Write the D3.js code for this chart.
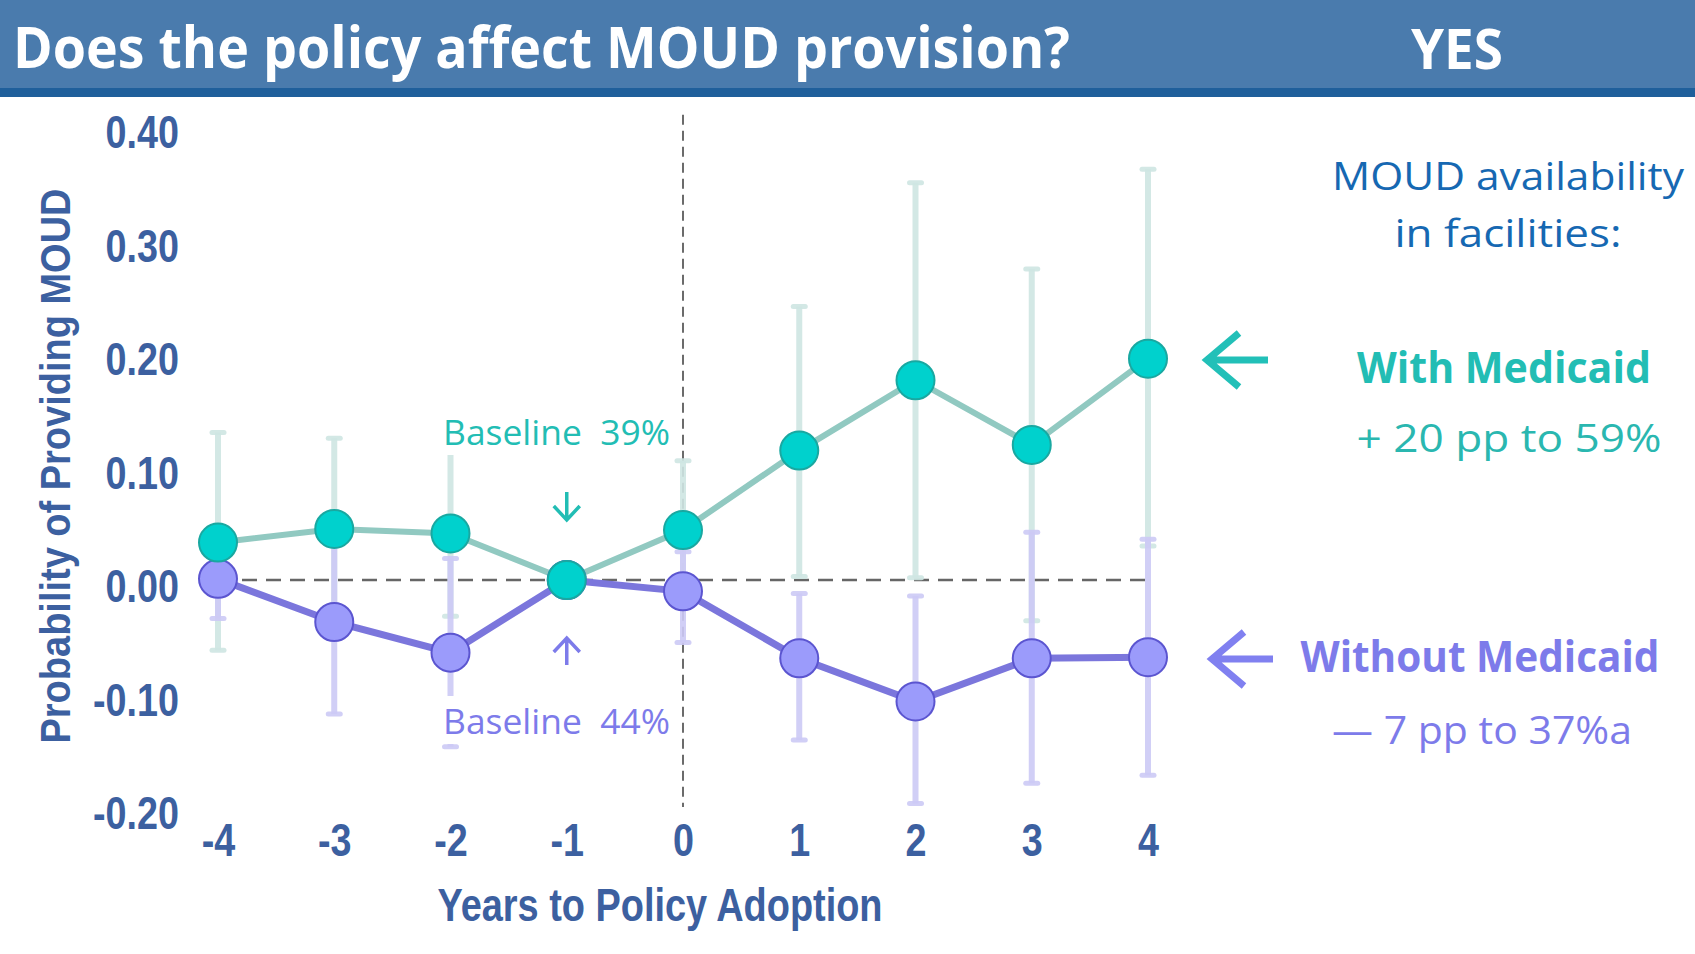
<!DOCTYPE html>
<html lang="en">
<head>
  <meta charset="UTF-8">
  <title>Does the policy affect MOUD provision?</title>
  <script src="https://cdn.jsdelivr.net/npm/d3@7"></script>
  <style>
    body {
      margin: 0;
      background-color: #fff;
    }
    .axis text {
      font-family: "Liberation Sans", Arial, sans-serif;
      font-weight: bold;
      fill: #3c60a0;
    }
    .axis path, .axis line {
      display: none;
    }
  </style>
</head>
<body>
  <div id="chart"></div>
  <script>
    // Data
    const years = [-4, -3, -2, -1, 0, 1, 2, 3, 4];
    const xTickLabels = ["-4", "-3", "-2", "-1", "0", "1", "2", "3", "4"];
    const yTicks = [-0.2, -0.1, 0, 0.1, 0.2, 0.3, 0.4];
    const yTickLabels = ["-0.20", "-0.10", "0.00", "0.10", "0.20", "0.30", "0.40"];

    // With Medicaid (teal)
    const withMed   = [0.033, 0.045, 0.041, 0, 0.044, 0.114, 0.176, 0.119, 0.195];
    const withLow   = [-0.062, -0.03, -0.032, null, -0.005, 0.003, 0.002, -0.036, 0.03];
    const withHigh  = [0.13, 0.125, 0.13, null, 0.105, 0.241, 0.35, 0.274, 0.362];

    // Without Medicaid (purple)
    const withoutMed  = [0.001, -0.037, -0.064, 0, -0.01, -0.069, -0.107, -0.069, -0.068];
    const withoutLow  = [-0.034, -0.118, -0.147, null, -0.055, -0.141, -0.197, -0.179, -0.172];
    const withoutHigh = [0.035, 0.045, 0.019, null, 0.025, -0.012, -0.014, 0.042, 0.036];

    const W = 1695, H = 954;
    const teal = { line: "#91c9c1", bar: "#cfe6e3", fill: "#00d1cd", stroke: "#19a8a1", text: "#22bdb4" };
    const purple = { line: "#7b76dc", bar: "#cdcaf6", fill: "#9b9bfb", stroke: "#5b55d0", text: "#7d7bea" };

    const svg = d3.select("#chart")
      .append("svg")
      .attr("width", W)
      .attr("height", H);

    // Header band
    svg.append("rect").attr("x", 0).attr("y", 0).attr("width", W).attr("height", 88).attr("fill", "#4a7bad");
    svg.append("rect").attr("x", 0).attr("y", 88).attr("width", W).attr("height", 9).attr("fill", "#1f5f9b");

    svg.append("text")
      .attr("x", 13).attr("y", 68)
      .attr("textLength", 1057).attr("lengthAdjust", "spacingAndGlyphs")
      .style("font-family", "'Open Sans', 'Noto Sans', sans-serif")
      .style("font-weight", "bold").style("font-size", "57px")
      .attr("fill", "#fff")
      .text("Does the policy affect MOUD provision?");

    svg.append("text")
      .attr("x", 1411).attr("y", 69)
      .attr("textLength", 92).attr("lengthAdjust", "spacingAndGlyphs")
      .style("font-family", "'Open Sans', 'Noto Sans', sans-serif")
      .style("font-weight", "bold").style("font-size", "55px")
      .attr("fill", "#fff")
      .text("YES");

    // Scales
    const x = d3.scaleLinear().domain([-4, 4]).range([218, 1148]);
    const y = d3.scaleLinear().domain([-0.2, 0.4]).range([807, 126]);

    // Axes (labels only, squeezed to a narrow face)
    svg.append("g")
      .attr("class", "axis")
      .attr("transform", "translate(179,5)")
      .call(d3.axisLeft(y).tickValues(yTicks).tickSize(0).tickPadding(0)
        .tickFormat((d, i) => yTickLabels[i]))
      .selectAll("text")
      .style("font-size", "46px")
      .attr("dy", "0.36em")
      .attr("transform", "scale(0.82,1)");

    svg.append("g")
      .attr("class", "axis")
      .attr("transform", "translate(0,823)")
      .call(d3.axisBottom(x).tickValues(years).tickSize(0).tickPadding(0)
        .tickFormat((d, i) => xTickLabels[i]))
      .selectAll("text")
      .style("font-size", "46px")
      .attr("dy", "0.72em")
      .attr("transform", "scale(0.82,1)");

    svg.append("text")
      .attr("x", 660).attr("y", 921)
      .attr("text-anchor", "middle")
      .attr("textLength", 445).attr("lengthAdjust", "spacingAndGlyphs")
      .style("font-family", "'Liberation Sans', Arial, sans-serif")
      .style("font-weight", "bold").style("font-size", "46px")
      .attr("fill", "#3c60a0")
      .text("Years to Policy Adoption");

    svg.append("text")
      .attr("transform", "translate(70,466) rotate(-90)")
      .attr("text-anchor", "middle")
      .attr("textLength", 555).attr("lengthAdjust", "spacingAndGlyphs")
      .style("font-family", "'Liberation Sans', Arial, sans-serif")
      .style("font-weight", "bold").style("font-size", "42px")
      .attr("fill", "#3c60a0")
      .text("Probability of Providing MOUD");

    // Reference lines
    svg.append("line")
      .attr("x1", x(0)).attr("x2", x(0))
      .attr("y1", y(0.41)).attr("y2", y(-0.2))
      .attr("stroke", "#6b6b6b").attr("stroke-width", 2)
      .attr("stroke-dasharray", "10,6");

    svg.append("line")
      .attr("x1", x(-4)).attr("x2", x(4))
      .attr("y1", y(0)).attr("y2", y(0))
      .attr("stroke", "#666").attr("stroke-width", 2.4)
      .attr("stroke-dasharray", "15,9");

    function series(vals, lows, highs, c) {
      const pts = years.map((yr, i) => ({ yr, v: vals[i], lo: lows[i], hi: highs[i] }));
      const bars = pts.filter(d => d.lo !== null);

      const g = svg.append("g");
      g.selectAll(".err")
        .data(bars)
        .enter()
        .append("line")
        .attr("x1", d => x(d.yr)).attr("x2", d => x(d.yr))
        .attr("y1", d => y(d.lo)).attr("y2", d => y(d.hi))
        .attr("stroke", c.bar).attr("stroke-width", 6).attr("opacity", 0.9);

      ["lo", "hi"].forEach(k => {
        g.selectAll(".cap-" + k)
          .data(bars)
          .enter()
          .append("line")
          .attr("x1", d => x(d.yr) - 6).attr("x2", d => x(d.yr) + 6)
          .attr("y1", d => y(d[k])).attr("y2", d => y(d[k]))
          .attr("stroke", c.bar).attr("stroke-width", 5)
          .attr("stroke-linecap", "round").attr("opacity", 0.9);
      });
      return pts;
    }

    function drawLine(pts, c, width) {
      svg.append("path")
        .datum(pts)
        .attr("fill", "none")
        .attr("stroke", c.line)
        .attr("stroke-width", width)
        .attr("d", d3.line().x(d => x(d.yr)).y(d => y(d.v)));
    }

    function dots(pts, c) {
      svg.append("g").selectAll("circle")
        .data(pts)
        .enter()
        .append("circle")
        .attr("cx", d => x(d.yr))
        .attr("cy", d => y(d.v))
        .attr("r", 19)
        .attr("fill", c.fill)
        .attr("stroke", c.stroke)
        .attr("stroke-width", 2);
    }

    const tealPts = series(withMed, withLow, withHigh, teal);
    const purplePts = series(withoutMed, withoutLow, withoutHigh, purple);

    // Baseline labels (white boxes cover the bars behind them)
    function baseline(txt, yBase, c) {
      svg.append("rect")
        .attr("x", 438).attr("y", yBase - 38)
        .attr("width", 236).attr("height", 48)
        .attr("fill", "#fff");
      svg.append("text")
        .attr("x", 443).attr("y", yBase)
        .attr("textLength", 227).attr("lengthAdjust", "spacingAndGlyphs")
        .style("font-family", "'Open Sans', 'Noto Sans', sans-serif")
        .style("font-size", "35px")
        .attr("fill", c.text)
        .attr("xml:space", "preserve")
        .text(txt);
    }
    baseline("Baseline  39%", 445, teal);
    baseline("Baseline  44%", 734, purple);

    drawLine(purplePts, purple, 7);
    drawLine(tealPts, teal, 6);
    dots(purplePts, purple);
    dots(tealPts, teal);

    // Small baseline arrows at year -1
    const ax = x(-1);
    svg.append("path")
      .attr("d", `M${ax},492 L${ax},520 M${ax - 13},506 L${ax},520 L${ax + 13},506`)
      .attr("fill", "none").attr("stroke", teal.text).attr("stroke-width", 3.5);
    svg.append("path")
      .attr("d", `M${ax},665 L${ax},638 M${ax - 13},652 L${ax},638 L${ax + 13},652`)
      .attr("fill", "none").attr("stroke", purple.text).attr("stroke-width", 3.5);

    // Right-hand legend panel
    function note(txt, cx, yBase, len, col, bold) {
      return svg.append("text")
        .attr("x", cx).attr("y", yBase)
        .attr("text-anchor", "middle")
        .attr("textLength", len).attr("lengthAdjust", "spacingAndGlyphs")
        .style("font-family", "'Open Sans', 'Noto Sans', sans-serif")
        .style("font-weight", bold ? "bold" : "normal")
        .style("font-size", bold ? "43px" : "39px")
        .attr("fill", col)
        .text(txt);
    }
    note("MOUD availability", 1508, 190, 352, "#1668b2", false);
    note("in facilities:", 1508, 247, 227, "#1668b2", false);
    note("With Medicaid", 1504, 383, 294, teal.text, true);
    note("+ 20 pp to 59%", 1509, 452, 305, "#2ab7b0", false);
    note("Without Medicaid", 1480, 672, 359, purple.text, true);
    note("\u2014 7 pp to 37%a", 1482, 744, 300, purple.text, false);

    // Big arrows pointing at the last points
    svg.append("path")
      .attr("d", "M1268,360 L1207,360 M1239,333 L1207,360 L1239,387")
      .attr("fill", "none").attr("stroke", "#22c0b8").attr("stroke-width", 7);
    svg.append("path")
      .attr("d", "M1273,659 L1212,659 M1244,632 L1212,659 L1244,686")
      .attr("fill", "none").attr("stroke", "#8080f0").attr("stroke-width", 7);
  </script>
</body>
</html>
